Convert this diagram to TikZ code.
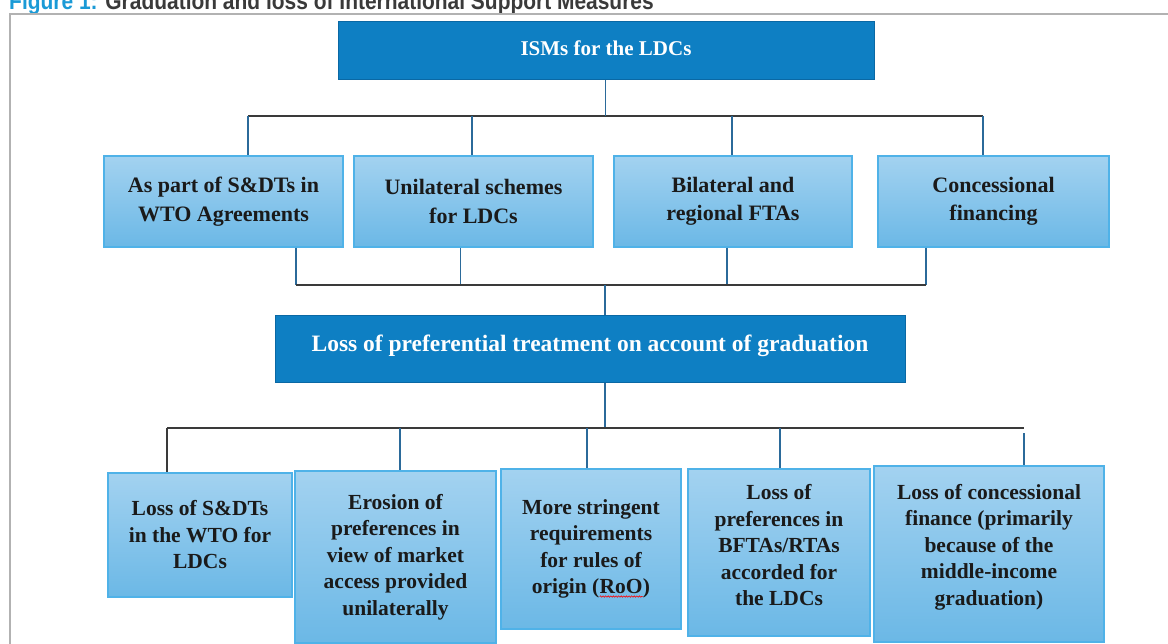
\documentclass[tikz,border=0pt]{standalone}
\usepackage{fontspec}
\setmainfont{Liberation Serif}
\newfontfamily\titlefont{Liberation Sans}
\usetikzlibrary{decorations.pathmorphing}
\definecolor{figblue}{HTML}{1A9AD6}
\definecolor{darkbox}{HTML}{0E7FC3}
\definecolor{darkedge}{HTML}{0A68A4}
\definecolor{lighttop}{HTML}{A3D2F0}
\definecolor{lightbot}{HTML}{6BB8E6}
\definecolor{lightedge}{HTML}{4FB2E8}
\definecolor{vline}{HTML}{2B6A9A}
\definecolor{hline}{HTML}{3A3A3A}
\definecolor{txt}{HTML}{1A1A1A}
\newcommand{\squig}[1]{\tikz[baseline=(w.base),x=1cm,y=1cm]{\node[inner sep=0pt,outer sep=0pt,minimum width=0pt,minimum height=0pt,text width=,align=left] (w) {#1};\draw[red,line width=0.6pt,decorate,decoration={snake,amplitude=0.7pt,segment length=2.6pt}] ([yshift=-2.5pt]w.south west) -- ([yshift=-2.5pt]w.south east);}}
\newcommand{\lift}[2]{\raisebox{#1}[\height][\depth]{\begin{tabular}{@{}c@{}}#2\end{tabular}}}
\tikzset{
  darkstyle/.style={draw=darkedge,line width=1pt,fill=darkbox,text=white,inner sep=0pt,align=center},
  lightstyle/.style={draw=lightedge,line width=1.2pt,top color=lighttop,bottom color=lightbot,text=txt,inner sep=0pt,align=center},
  rowtwo/.style={lightstyle,font=\bfseries\fontsize{22}{28.5}\selectfont},
  rowthree/.style={lightstyle,font=\bfseries\fontsize{21.5}{26.5}\selectfont},
  vconn/.style={draw=vline,line width=1.8pt},
  hconn/.style={draw=hline,line width=2pt}
}
\begin{document}
\begin{tikzpicture}[x=1pt,y=-1pt]
\useasboundingbox (0,0) rectangle (1168,644);
\clip (0,0) rectangle (1168,644);
% title (cut at the top)
\node[anchor=base west,inner sep=0pt,text=hline] (title) at (9,9.5) {\scalebox{0.873}[1]{\titlefont\bfseries\fontsize{24}{28}\selectfont{\color{figblue}Figure 1:} Graduation and loss of International Support Measures}};
% outer frame
\draw[draw=black!30,line width=1.5pt] (10,14) rectangle (1190,670);
% top box
\node[darkstyle,font=\bfseries\fontsize{21}{25}\selectfont,minimum width=536pt,minimum height=58pt] (ism) at (606,51) {\lift{0pt}{ISMs for the LDCs}};
% second row
\node[rowtwo,minimum width=239pt,minimum height=91pt] (ra) at (223.5,201.5) {As part of S\&DTs in\\WTO Agreements};
\node[rowtwo,minimum width=239pt,minimum height=91pt] (rb) at (473.5,201.5) {Unilateral schemes\\for LDCs};
\node[rowtwo,minimum width=238pt,minimum height=91pt] (rc) at (733,201.5) {Bilateral and\\regional FTAs};
\node[rowtwo,minimum width=231pt,minimum height=91pt] (rd) at (993.5,201.5) {Concessional\\financing};
% loss box
\node[darkstyle,font=\bfseries\fontsize{23.5}{27}\selectfont,minimum width=630pt,minimum height=67pt] (loss) at (590,349.5) {\lift{3pt}{Loss of preferential treatment on account of graduation}};
% bottom row
\node[rowthree,minimum width=184pt,minimum height=124pt] (ba) at (200,535) {Loss of S\&DTs\\in the WTO for\\LDCs};
\node[rowthree,minimum width=201pt,minimum height=172pt] (bb) at (395.5,557) {Erosion of\\preferences in\\view of market\\access provided\\unilaterally};
\node[rowthree,minimum width=180pt,minimum height=160pt] (bc) at (591,549) {More stringent\\requirements\\for rules of\\origin (\squig{RoO})};
\node[rowthree,minimum width=182pt,minimum height=167pt] (bd) at (779,552.5) {\lift{5pt}{Loss of\\preferences in\\BFTAs/RTAs\\accorded for\\the LDCs}};
\node[rowthree,minimum width=230pt,minimum height=176pt] (be) at (989,554) {\lift{7pt}{Loss of concessional\\finance (primarily\\because of the\\middle-income\\graduation)}};
% connector coordinates
\coordinate (t0) at (605.5,116);
\coordinate (ta) at (248,116);
\coordinate (tb) at (472,116);
\coordinate (tc) at (732,116);
\coordinate (td) at (983,116);
\coordinate (m0) at (605,285);
\coordinate (ma) at (296,285);
\coordinate (mb) at (460.5,285);
\coordinate (mc) at (727,285);
\coordinate (md) at (926,285);
\coordinate (l0) at (605,428);
\coordinate (la) at (167,428);
\coordinate (lb) at (400,428);
\coordinate (lc) at (587,428);
\coordinate (ld) at (780,428);
\coordinate (le) at (1024,428);
% top tree
\draw[hconn] (ta) -- (td);
\draw[vconn] (ism.south -| t0) -- (t0);
\draw[vconn] (ta) -- (ta |- ra.north);
\draw[vconn] (tb) -- (tb |- rb.north);
\draw[vconn] (tc) -- (tc |- rc.north);
\draw[vconn] (td) -- (td |- rd.north);
% middle tree
\draw[vconn] (ma |- ra.south) -- (ma);
\draw[vconn] (mb |- rb.south) -- (mb);
\draw[vconn] (mc |- rc.south) -- (mc);
\draw[vconn] (md |- rd.south) -- (md);
\draw[hconn] (ma) -- (md);
\draw[vconn] (m0) -- (m0 |- loss.north);
% bottom tree
\draw[vconn] (loss.south -| l0) -- (l0);
\draw[hconn] (la) -- (le);
\draw[hconn] (la) -- (la |- ba.north);
\draw[vconn] (lb) -- (lb |- bb.north);
\draw[vconn] (lc) -- (lc |- bc.north);
\draw[vconn] (ld) -- (ld |- bd.north);
\draw[vconn] ([yshift=-5pt]le) -- (le |- be.north);
\end{tikzpicture}
\end{document}
